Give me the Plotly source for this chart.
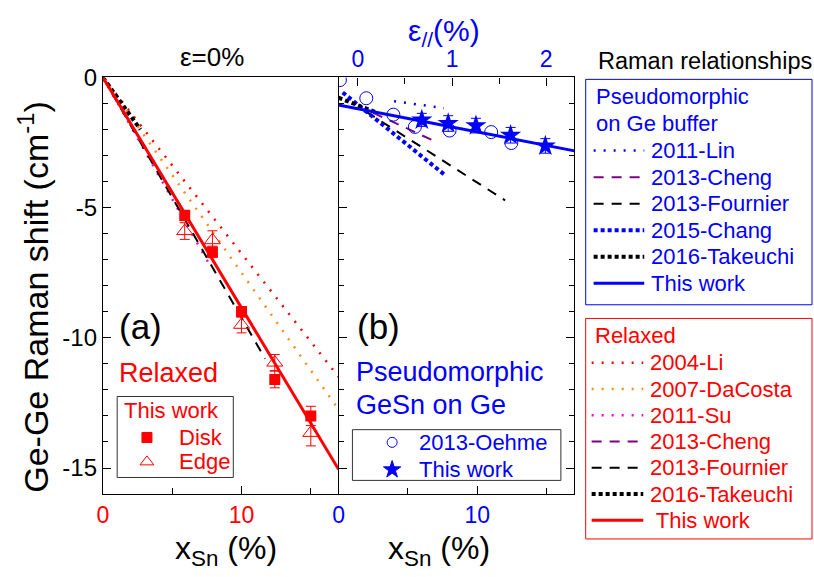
import plotly.graph_objects as go

W, H = 814, 577
FONT = "Liberation Sans, Arial, sans-serif"
RED = "#ff0000"; BLUE = "#0000ff"; ORANGE = "#ff8c1a"; MAGENTA = "#ff00d0"
PURPLE = "#800080"; BLACK = "#000000"

# ---------------- data ----------------
# Panel (a): relaxed GeSn, this work
disk_x = [5.9, 7.9, 10.0, 12.4, 15.0]
disk_y = [-5.3, -6.7, -9.0, -11.6, -13.0]
disk_err = [0.2, 0.22, 0.2, 0.32, 0.37]
edge_x = [5.9, 7.9, 10.0, 12.4, 15.0]
edge_y = [-5.9, -6.25, -9.5, -10.95, -13.65]
edge_err = [0.32, 0.36, 0.31, 0.31, 0.5]

# Relaxed Raman relationships (line endpoints)
rel_li_x = [0, 17];        rel_li_y = [0, -11.5]
rel_dacosta_x = [0, 17];   rel_dacosta_y = [0, -12.75]
rel_su_x = [0, 7.7];       rel_su_y = [0, -7.2]
rel_cheng_x = [0, 5.9];    rel_cheng_y = [0, -5.2]
rel_fournier_x = [0, 11.7]; rel_fournier_y = [0, -10.8]
rel_takeuchi_x = [0, 2.7]; rel_takeuchi_y = [0, -2.0]
rel_this_x = [0, 17];      rel_this_y = [0, -15.05]

# Panel (b): pseudomorphic GeSn on Ge
oehme_x = [0.1, 2.0, 3.95, 5.5, 8.0, 11.0, 12.45]
oehme_y = [-0.1, -0.8, -1.43, -1.9, -2.04, -2.1, -2.52]
star_x = [6.0, 7.9, 9.9, 12.4, 14.9]
star_y = [-1.63, -1.77, -1.85, -2.22, -2.63]
star_err = [0.25, 0.3, 0.28, 0.3, 0.28]

ps_lin_x = [4.0, 7.6];       ps_lin_y = [-0.91, -1.18]
ps_cheng_x = [2.5, 7.0];     ps_cheng_y = [-1.36, -2.47]
ps_fournier_x = [2.0, 12.0]; ps_fournier_y = [-1.32, -4.72]
ps_chang_x = [0.3, 7.6];     ps_chang_y = [-0.58, -3.72]
ps_takeuchi_x = [0, 2.7];    ps_takeuchi_y = [-0.78, -1.34]
ps_this_x = [0, 17];         ps_this_y = [-1.06, -2.82]

# axis ticks
y_ticks = [0, -5, -10, -15]
y_ticktext = ["0", "-5", "-10", "-15"]
x_ticks = [0, 10]
x_minor = [5, 15]
eps_ticks = [0, 1, 2]
eps_minor = [0.5, 1.5]

# ---------------- styles ----------------
SPARSE = "2px,8px"
DENSE = "4px,3px"
DASH = "10px,8px"

fig = go.Figure()

def line(x, y, color, dash, width, xa, ya):
    fig.add_trace(go.Scatter(x=x, y=y, mode="lines", xaxis=xa, yaxis=ya,
                             line=dict(color=color, dash=dash, width=width),
                             hoverinfo="skip", showlegend=False))

# panel a lines
line(rel_li_x, rel_li_y, RED, SPARSE, 2.5, "x", "y")
line(rel_dacosta_x, rel_dacosta_y, ORANGE, SPARSE, 2.5, "x", "y")
line(rel_su_x, rel_su_y, MAGENTA, SPARSE, 2.5, "x", "y")
line(rel_cheng_x, rel_cheng_y, PURPLE, DASH, 2, "x", "y")
line(rel_fournier_x, rel_fournier_y, BLACK, DASH, 2, "x", "y")
line(rel_takeuchi_x, rel_takeuchi_y, BLACK, DENSE, 4, "x", "y")
line(rel_this_x, rel_this_y, RED, "solid", 3, "x", "y")

# panel a markers
fig.add_trace(go.Scatter(x=disk_x, y=disk_y, mode="markers", xaxis="x", yaxis="y",
                         marker=dict(symbol="square", size=11, color=RED),
                         error_y=dict(type="data", array=disk_err, color=RED, thickness=1, width=5),
                         showlegend=False))
fig.add_trace(go.Scatter(x=edge_x, y=edge_y, mode="markers", xaxis="x", yaxis="y",
                         marker=dict(symbol="triangle-up-open", size=14, color=RED, line=dict(width=1)),
                         error_y=dict(type="data", array=edge_err, color=RED, thickness=1, width=5),
                         showlegend=False))

# panel b lines
line(ps_lin_x, ps_lin_y, BLUE, SPARSE, 2.5, "x2", "y2")
line(ps_cheng_x, ps_cheng_y, PURPLE, DASH, 2, "x2", "y2")
line(ps_fournier_x, ps_fournier_y, BLACK, DASH, 2, "x2", "y2")
line(ps_chang_x, ps_chang_y, BLUE, DENSE, 4, "x2", "y2")
line(ps_takeuchi_x, ps_takeuchi_y, BLACK, DENSE, 4, "x2", "y2")
line(ps_this_x, ps_this_y, BLUE, "solid", 3, "x2", "y2")

fig.add_trace(go.Scatter(x=oehme_x, y=oehme_y, mode="markers", xaxis="x2", yaxis="y2",
                         marker=dict(symbol="circle-open", size=13, color=BLUE, line=dict(width=1)),
                         showlegend=False))
fig.add_trace(go.Scatter(x=star_x, y=star_y, mode="markers", xaxis="x2", yaxis="y2",
                         marker=dict(symbol="star", size=16, color=BLUE),
                         error_y=dict(type="data", array=star_err, color=BLUE, thickness=1, width=5),
                         showlegend=False))
# dummy trace for the top strain axis
fig.add_trace(go.Scatter(x=[None], y=[None], xaxis="x3", yaxis="y2", showlegend=False))

# ---------------- layout helpers ----------------
def px(x): return x / W
def py(y): return 1 - y / H

XA0, XA1, XB1 = 97.7, 335.0, 572.7
YT, YB = 65.0, 492.0

# legend symbols (pixel overlay axis)
def sym(x, y, symbol, size, color):
    fig.add_trace(go.Scatter(x=[x], y=[y], mode="markers", xaxis="x4", yaxis="y4",
                             marker=dict(symbol=symbol, size=size, color=color, line=dict(width=1, color=color)),
                             hoverinfo="skip", showlegend=False))
sym(142, 434, "square", 10, RED)
sym(142, 459, "triangle-up-open", 12, RED)
sym(389, 439, "circle-open", 10, BLUE)
sym(389, 467, "star", 13, BLUE)

annotations = []
def text(x, y, s, size, color, xanchor="center", yanchor="middle", angle=0):
    annotations.append(dict(x=px(x), y=py(y), xref="paper", yref="paper", text=s, showarrow=False,
                            xanchor=xanchor, yanchor=yanchor, textangle=angle,
                            font=dict(family=FONT, size=size, color=color)))

text(208, 44, "ε=0%", 26, BLACK)
text(441, 19, "ε<sub>//</sub>(%)", 30, BLUE)
text(28, 290, "Ge-Ge Raman shift (cm<sup>-1</sup>)", 34, BLACK, angle=-90)
text(222, 550, "x<sub>Sn</sub> (%)", 32, BLACK)
text(436, 550, "x<sub>Sn</sub> (%)", 32, BLACK)
text(135, 320, "(a)", 35, BLACK)
text(375, 320, "(b)", 35, BLACK)
text(112, 368, "Relaxed", 27, RED, xanchor="left")
text(351, 367, "Pseudomorphic", 27, BLUE, xanchor="left")
text(351, 401, "GeSn on Ge", 27, BLUE, xanchor="left")
text(117, 406, "This work", 22, RED, xanchor="left")
text(172, 434, "Disk", 22, RED, xanchor="left")
text(172, 459, "Edge", 22, RED, xanchor="left")
text(414, 439, "2013-Oehme", 22, BLUE, xanchor="left")
text(414, 467, "This work", 22, BLUE, xanchor="left")

text(594, 48, "Raman relationships", 23.5, BLACK, xanchor="left")
text(592, 85, "Pseudomorphic", 22, BLUE, xanchor="left")
text(592, 112, "on Ge buffer", 22, BLUE, xanchor="left")
text(591, 330, "Relaxed", 22, RED, xanchor="left")

shapes = []
def box(x0, y0, x1, y1, color):
    shapes.append(dict(type="rect", xref="paper", yref="paper", x0=px(x0), x1=px(x1), y0=py(y1), y1=py(y0),
                       line=dict(color=color, width=1)))
def sample(x0, x1, y, color, dash, width):
    shapes.append(dict(type="line", xref="paper", yref="paper", x0=px(x0), x1=px(x1), y0=py(y), y1=py(y),
                       line=dict(color=color, dash=dash, width=width)))

box(112, 392, 229, 475, "#333333")
box(349, 426, 559, 478, "#333333")
box(584, 67, 812, 298, BLUE)
box(584, 312, 812, 538, RED)

ps_rows = [("2011-Lin", BLUE, SPARSE, 2.5), ("2013-Cheng", PURPLE, DASH, 2),
           ("2013-Fournier", BLACK, DASH, 2), ("2015-Chang", BLUE, DENSE, 4),
           ("2016-Takeuchi", BLACK, DENSE, 4), ("This work", BLUE, "solid", 3)]
for i, (lab, c, d, w) in enumerate(ps_rows):
    y = 140 + i * 27.2
    sample(592, 643, y, c, d, w)
    text(648, y, lab, 22, BLUE, xanchor="left")

rel_rows = [("2004-Li", RED, SPARSE, 2.5), ("2007-DaCosta", ORANGE, SPARSE, 2.5),
            ("2011-Su", MAGENTA, SPARSE, 2.5), ("2013-Cheng", PURPLE, DASH, 2),
            ("2013-Fournier", BLACK, DASH, 2), ("2016-Takeuchi", BLACK, DENSE, 4),
            (" This work", RED, "solid", 3)]
for i, (lab, c, d, w) in enumerate(rel_rows):
    y = 357.5 + i * 26.9
    sample(590, 642, y, c, d, w)
    text(647, y, lab, 22, RED, xanchor="left")

axis_common = dict(showgrid=False, zeroline=False, showline=True, linecolor=BLACK, linewidth=1.3,
                   ticks="inside", tickcolor=BLACK, ticklen=8, tickwidth=1.3)

fig.update_layout(
    width=W, height=H, autosize=False,
    margin=dict(l=0, r=0, t=0, b=0),
    paper_bgcolor="white", plot_bgcolor="rgba(0,0,0,0)",
    showlegend=False,
    font=dict(family=FONT, color=BLACK),
    xaxis=dict(domain=[px(XA0), px(XA1)], range=[0, 17], anchor="y", mirror=True,
               tickvals=x_ticks, ticktext=["0", "10"], tickfont=dict(size=23, color=RED),
               minor=dict(tickvals=x_minor, ticks="inside", ticklen=6, tickcolor=BLACK, tickwidth=1.3),
               **axis_common),
    yaxis=dict(domain=[py(YB), py(YT)], range=[-16, 0], anchor="x", mirror=False,
               tickvals=y_ticks, ticktext=y_ticktext, tickfont=dict(size=24, color=BLACK),
               minor=dict(dtick=1, ticks="inside", ticklen=5, tickcolor=BLACK, tickwidth=1.3),
               **axis_common),
    xaxis2=dict(domain=[px(XA1), px(XB1)], range=[0, 17], anchor="y2", mirror=True,
                tickvals=x_ticks, ticktext=["0", "10"], tickfont=dict(size=23, color=BLUE),
                minor=dict(tickvals=x_minor, ticks="inside", ticklen=6, tickcolor=BLACK, tickwidth=1.3),
                **axis_common),
    yaxis2=dict(domain=[py(YB), py(YT)], range=[-16, 0], anchor="x2", mirror="ticks",
                tickvals=y_ticks, showticklabels=False,
                minor=dict(dtick=1, ticks="inside", ticklen=5, tickcolor=BLACK, tickwidth=1.3),
                **axis_common),
    xaxis3=dict(overlaying="x2", side="top", anchor="y2", range=[-0.205, 2.30],
                tickvals=eps_ticks, ticktext=["0", "1", "2"], tickfont=dict(size=23, color=BLUE),
                minor=dict(tickvals=eps_minor, ticks="inside", ticklen=6, tickcolor=BLACK, tickwidth=1.3),
                **axis_common),
    xaxis4=dict(domain=[0, 1], range=[0, W], visible=False, anchor="y4", fixedrange=True),
    yaxis4=dict(domain=[0, 1], range=[H, 0], visible=False, anchor="x4", fixedrange=True),
    annotations=annotations,
    shapes=shapes,
)

fig.write_html("out.html")
